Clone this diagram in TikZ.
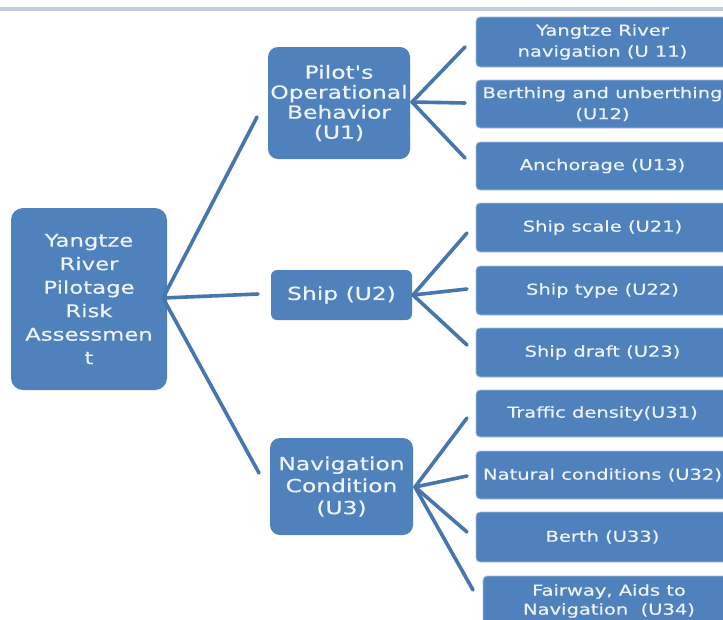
\documentclass[tikz,border=0pt]{standalone}
\usepackage{fontspec}
\newfontfamily\dvs[FakeStretch=1.3,FakeBold=0.4]{DejaVu Sans}
\definecolor{boxblue}{HTML}{4F81BD}
\definecolor{linkblue}{HTML}{4775AE}
\definecolor{txtwhite}{HTML}{F0F4FA}
\definecolor{topline}{HTML}{C3CBDC}
\definecolor{leafedge}{HTML}{A9C0DE}
\begin{document}
\begin{tikzpicture}[x=1pt,y=-1pt,
  mainbox/.style={fill=boxblue, rounded corners=10pt, inner sep=0pt, text=txtwhite, align=center},
  leafbox/.style={fill=boxblue, draw=leafedge, line width=0.8pt, rounded corners=4pt, inner sep=0pt, text=txtwhite, align=center, minimum width=253pt},
  conn/.style={draw=linkblue, line width=3.6pt, line cap=round}]
\useasboundingbox (0,0) rectangle (723,619);
\clip (0,0) rectangle (723,619);
\fill[white] (0,0) rectangle (723,619);
\fill[topline] (0,7) rectangle (723,11);

% main nodes
\node[mainbox, rounded corners=12pt, minimum width=156pt, minimum height=182pt,
      font=\dvs\fontsize{17.5}{23.5}\selectfont] (root) at (89,299)
  {Yangtze\\River\\Pilotage\\Risk\\Assessmen\\t};
\node[mainbox, minimum width=142pt, minimum height=112pt,
      font=\dvs\fontsize{18}{20}\selectfont] (u1) at (339,103)
  {Pilot's\\Operational\\Behavior\\(U1)};
\node[mainbox, rounded corners=6pt, minimum width=141pt, minimum height=50pt,
      font=\dvs\fontsize{18}{20}\selectfont] (u2) at (341.5,295)
  {Ship (U2)};
\node[mainbox, minimum width=143pt, minimum height=97pt,
      font=\dvs\fontsize{18}{22}\selectfont] (u3) at (341.5,486.5)
  {Navigation\\Condition\\(U3)};

% leaves
\tikzset{leaffont/.style={font=\dvs\fontsize{15}{21}\selectfont}}
\node[leafbox, leaffont, minimum height=50pt] (u11) at (602.5,42) {Yangtze River\\navigation (U 11)};
\node[leafbox, leaffont, minimum height=48pt] (u12) at (602.5,104) {Berthing and unberthing\\(U12)};
\node[leafbox, leaffont, minimum height=48pt] (u13) at (602.5,166) {Anchorage (U13)};
\node[leafbox, leaffont, minimum height=49pt] (u21) at (602.5,227.5) {Ship scale (U21)};
\node[leafbox, leaffont, minimum height=49pt] (u22) at (602.5,290.5) {Ship type (U22)};
\node[leafbox, leaffont, minimum height=49pt] (u23) at (602.5,352.5) {Ship draft (U23)};
\node[leafbox, leaffont, minimum height=47pt] (u31) at (602.5,413.5) {Traffic density(U31)};
\node[leafbox, leaffont, minimum height=48pt] (u32) at (602.5,475) {Natural conditions (U32)};
\node[leafbox, leaffont, minimum height=50pt] (u33) at (602.5,537) {Berth (U33)};
\node[leafbox, font=\dvs\fontsize{15}{19}\selectfont, minimum width=252pt, minimum height=50pt] (u34) at (609,601)
  {Fairway, Aids to\\Navigation~~(U34)};

% hubs and connector ends
\coordinate (hr) at (163,298);
\coordinate (h1) at (412,102);
\coordinate (h2) at (413,295);
\coordinate (h3) at (415,487);
\coordinate (eu1) at (257,117);
\coordinate (eu2) at (258,294);
\coordinate (eu3) at (259,473);
\coordinate (e11) at (465,47);
\coordinate (e12) at (465,103);
\coordinate (e13) at (465,158);
\coordinate (e21) at (467,233);
\coordinate (e22) at (467,289);
\coordinate (e23) at (467,345);
\coordinate (e31) at (467,418);
\coordinate (e32) at (467,476);
\coordinate (e33) at (467,532);
\coordinate (e34) at (473,590);

\draw[conn] (hr) -- (eu1);
\draw[conn] (hr) -- (eu2);
\draw[conn] (hr) -- (eu3);
\draw[conn] (h1) -- (e11);
\draw[conn] (h1) -- (e12);
\draw[conn] (h1) -- (e13);
\draw[conn] (h2) -- (e21);
\draw[conn] (h2) -- (e22);
\draw[conn] (h2) -- (e23);
\draw[conn] (h3) -- (e31);
\draw[conn] (h3) -- (e32);
\draw[conn] (h3) -- (e33);
\draw[conn] (h3) -- (e34);
\end{tikzpicture}
\end{document}
